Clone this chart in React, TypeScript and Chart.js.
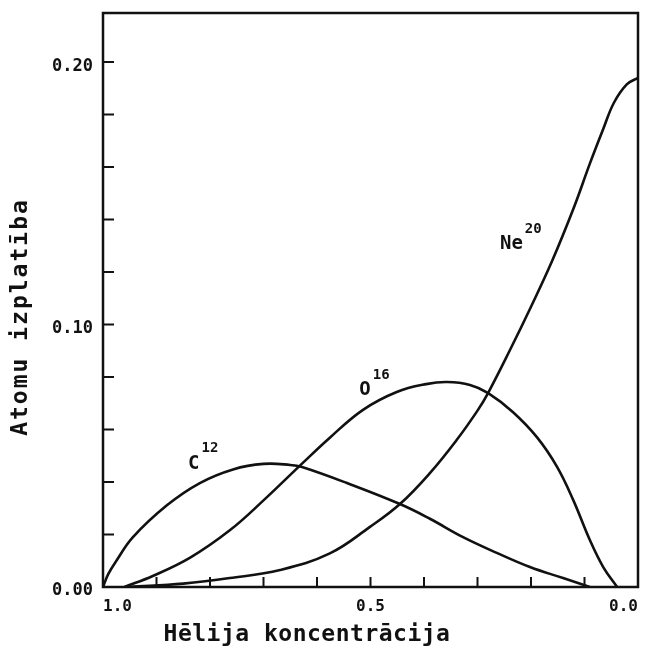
import React, { useEffect, useRef } from "react";
import { Chart, registerables } from "chart.js";

Chart.register(...registerables);

// Helium concentration (x) and atomic abundance (y)
const c12X = [1.0, 0.99, 0.974, 0.944, 0.88, 0.819, 0.757, 0.70, 0.65, 0.628, 0.544, 0.445, 0.389, 0.327, 0.264, 0.202, 0.14, 0.09];
const c12Y = [0, 0.005, 0.0103, 0.019, 0.0312, 0.0396, 0.0448, 0.0469, 0.0465, 0.0457, 0.0396, 0.0316, 0.026, 0.019, 0.013, 0.0076, 0.0034, 0];

const o16X = [0.96, 0.907, 0.837, 0.763, 0.701, 0.628, 0.576, 0.514, 0.451, 0.396, 0.357, 0.314, 0.28, 0.234, 0.189, 0.151, 0.121, 0.09, 0.065, 0.039];
const o16Y = [0, 0.0042, 0.0112, 0.0216, 0.0328, 0.047, 0.0569, 0.0675, 0.0743, 0.0773, 0.0781, 0.077, 0.0739, 0.0667, 0.0571, 0.0457, 0.0331, 0.0179, 0.0076, 0];

const ne20X = [0.95, 0.85, 0.763, 0.669, 0.576, 0.501, 0.445, 0.389, 0.339, 0.30, 0.28, 0.24, 0.20, 0.16, 0.12, 0.09, 0.065, 0.045, 0.021, 0];
const ne20Y = [0, 0.0013, 0.0034, 0.0065, 0.0128, 0.0229, 0.0316, 0.0434, 0.056, 0.0672, 0.074, 0.09, 0.1068, 0.1245, 0.1445, 0.1613, 0.1745, 0.1845, 0.1915, 0.194];

// Tick values and labels
const xLabelTicks = [0.0, 0.5, 1.0];
const xMinorTicks = [0.9, 0.8, 0.7, 0.6, 0.5, 0.4, 0.3, 0.2, 0.1];
const yLabelTicks = [0.0, 0.1, 0.2];
const yMinorTicks = [0.02, 0.04, 0.06, 0.08, 0.1, 0.12, 0.14, 0.16, 0.18, 0.2];

const xTitle = "Hēlija koncentrācija";
const yTitle = "Atomu izplatība";

// Curve annotations: [base text, superscript, x value, y value]
const curveLabels: [string, string, number, number][] = [
  ["C", "12", 0.841, 0.047],
  ["O", "16", 0.521, 0.075],
  ["Ne", "20", 0.258, 0.1305],
];

const FONT = "'DejaVu Sans Mono', monospace";

const toPoints = (xs: number[], ys: number[]) => xs.map((x, i) => ({ x, y: ys[i] }));

const decorPlugin = {
  id: "decor",
  afterDraw(chart: any) {
    const { ctx, chartArea: a, scales } = chart;
    const xs = scales.x;
    const ys = scales.y;
    ctx.save();
    ctx.strokeStyle = "#111";
    ctx.fillStyle = "#111";
    ctx.lineWidth = 2.5;
    ctx.strokeRect(a.left, a.top, a.right - a.left, a.bottom - a.top);

    ctx.lineWidth = 2;
    ctx.beginPath();
    for (const v of yMinorTicks) {
      const py = ys.getPixelForValue(v);
      ctx.moveTo(a.left, py);
      ctx.lineTo(a.left + 11, py);
    }
    for (const v of xMinorTicks) {
      const px = xs.getPixelForValue(v);
      ctx.moveTo(px, a.bottom);
      ctx.lineTo(px, a.bottom - 10);
    }
    ctx.stroke();

    // curve labels
    ctx.textBaseline = "middle";
    ctx.textAlign = "left";
    for (const [base, sup, vx, vy] of curveLabels) {
      const px = xs.getPixelForValue(vx);
      const py = ys.getPixelForValue(vy);
      ctx.font = `bold 19px ${FONT}`;
      ctx.fillText(base, px, py);
      const w = ctx.measureText(base).width;
      ctx.font = `bold 14px ${FONT}`;
      ctx.fillText(sup, px + w + 2, py - 15);
    }

    // axis titles
    ctx.font = `bold 23px ${FONT}`;
    ctx.textAlign = "center";
    ctx.textBaseline = "middle";
    (ctx as any).letterSpacing = "0.5px";
    ctx.fillText(xTitle, 307, 635);
    ctx.translate(21, 317);
    ctx.rotate(-Math.PI / 2);
    (ctx as any).letterSpacing = "2px";
    ctx.fillText(yTitle, 0, 0);
    ctx.restore();
  },
};

export default function App() {
  const ref = useRef<HTMLCanvasElement>(null);
  useEffect(() => {
    if (!ref.current) return;
    const chart = new Chart(ref.current, {
      type: "line",
      data: {
        datasets: [
          { label: "C12", data: toPoints(c12X, c12Y) },
          { label: "O16", data: toPoints(o16X, o16Y) },
          { label: "Ne20", data: toPoints(ne20X, ne20Y) },
        ].map((d) => ({
          ...d,
          borderColor: "#111",
          borderWidth: 2.6,
          pointRadius: 0,
          fill: false,
          tension: 0.4,
        })),
      },
      plugins: [decorPlugin],
      options: {
        responsive: false,
        maintainAspectRatio: false,
        animation: false,
        layout: { padding: { top: 13, right: 13, left: 0, bottom: 0 } },
        plugins: { legend: { display: false }, tooltip: { enabled: false } },
        scales: {
          x: {
            type: "linear",
            reverse: true,
            min: 0,
            max: 1,
            grid: { display: false, drawTicks: false },
            border: { display: false },
            afterBuildTicks: (s: any) => {
              s.ticks = xLabelTicks.map((value) => ({ value }));
            },
            afterFit: (s: any) => {
              s.height = 61;
              s.paddingLeft = 0;
              s.paddingRight = 0;
            },
            ticks: {
              padding: 10,
              maxRotation: 0,
              autoSkip: false,
              align: "inner",
              color: "#111",
              font: { family: FONT, size: 16, weight: "bold" },
              callback: (v: any) => Number(v).toFixed(1),
            },
          },
          y: {
            type: "linear",
            min: 0,
            max: 0.2187,
            grid: { display: false, drawTicks: false },
            border: { display: false },
            afterBuildTicks: (s: any) => {
              s.ticks = yLabelTicks.map((value) => ({ value }));
            },
            afterFit: (s: any) => {
              s.width = 103;
              s.paddingTop = 0;
              s.paddingBottom = 0;
            },
            ticks: {
              padding: 10,
              labelOffset: 4,
              autoSkip: false,
              color: "#111",
              font: { family: FONT, size: 17, weight: "bold" },
              callback: (v: any) => Number(v).toFixed(2),
            },
          },
        },
      } as any,
    });
    return () => chart.destroy();
  }, []);
  return (
    <div style={{ position: "absolute", left: 0, top: 0, width: 651, height: 648, background: "#fff" }}>
      <canvas ref={ref} width={651} height={648} />
    </div>
  );
}
